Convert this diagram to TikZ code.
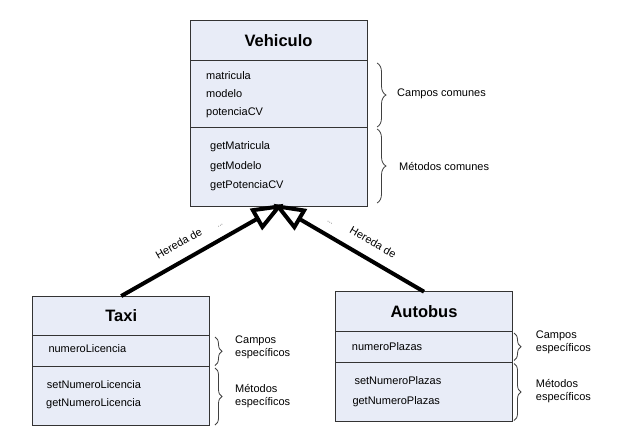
\documentclass[tikz,border=0pt]{standalone}
\usepackage{fontspec}
\setmainfont{Liberation Sans}
\usetikzlibrary{positioning,arrows.meta,decorations.pathreplacing}
\definecolor{boxfill}{RGB}{232,236,247}

\begin{document}
\begin{tikzpicture}[x=1pt, y=-1pt,
        compart/.style={draw=black!80, fill=boxfill, line width=1pt, minimum width=177pt, inner sep=0pt, outer sep=0pt},
        classname/.style={compart, font=\fontsize{16.5}{20}\selectfont\bfseries},
        member/.style={anchor=base west, inner sep=0pt, font=\fontsize{11}{13}\selectfont},
        note/.style={anchor=west, align=left, inner sep=0pt, font=\fontsize{11}{13}\selectfont},
        curly/.style={decorate, decoration={brace, amplitude=#1}, draw=black!75, line width=0.8pt},
        inherit/.style={line width=4pt, shorten >=-6pt, -{Triangle[open, length=32pt 0 0, width=24pt 0 0]}},
        dotmark/.style={sloped, above=10pt, inner sep=0pt, font=\scriptsize, text=black!70}]
            \useasboundingbox (0, 0) rectangle (617, 445);
            % Vehiculo
            \node[classname, minimum height=40pt] (vehT) at (278.5, 40.7) {Vehiculo};
            \node[compart, minimum height=67pt, below=0pt of vehT] (vehF) {};
            \node[compart, minimum height=79pt, below=0pt of vehF] (vehM) {};
            \node[member] (v1) at (206, 79.7) {matricula};
            \node[member] (v2) at (206, 97.3) {modelo};
            \node[member] (v3) at (206, 115) {potenciaCV};
            \node[member] (v4) at (210, 149.7) {getMatricula};
            \node[member] (v5) at (210, 169) {getModelo};
            \node[member] (v6) at (210, 188) {getPotenciaCV};
            \draw[curly=9pt] (377, 63) -- (377, 127);
            \draw[curly=9pt] (377, 129) -- (377, 203);
            \node[note] (vehCampos) at (397, 94) {Campos comunes};
            \node[note] (vehMetodos) at (399, 166) {Métodos comunes};
            % Taxi
            \node[classname, minimum height=39.3pt] (taxiT) at (121.2, 315.7) {Taxi};
            \node[compart, minimum height=31.4pt, below=0pt of taxiT] (taxiF) {};
            \node[compart, minimum height=59pt, below=0pt of taxiF] (taxiM) {};
            \node[member] (t1) at (48.3, 352.3) {numeroLicencia};
            \node[member] (t2) at (46.7, 388.3) {setNumeroLicencia};
            \node[member] (t3) at (46, 406.3) {getNumeroLicencia};
            \draw[curly=7pt] (215, 337) -- (215, 365.5);
            \draw[curly=7pt] (215, 368) -- (215, 425);
            \node[note] (taxiCampos) at (235, 347.4) {Campos\\específicos};
            \node[note] (taxiMetodos) at (235, 396) {Métodos\\específicos};
            % Autobus
            \node[classname, minimum height=40pt] (autoT) at (424, 311.7) {Autobus};
            \node[compart, minimum height=31pt, below=0pt of autoT] (autoF) {};
            \node[compart, minimum height=59pt, below=0pt of autoF] (autoM) {};
            \node[member] (a1) at (351.7, 350.7) {numeroPlazas};
            \node[member] (a2) at (354.3, 384.7) {setNumeroPlazas};
            \node[member] (a3) at (352.3, 404) {getNumeroPlazas};
            \draw[curly=7pt] (514, 333) -- (514, 360.5);
            \draw[curly=7pt] (514, 363.5) -- (514, 420.5);
            \node[note] (autoCampos) at (535.7, 342) {Campos\\específicos};
            \node[note] (autoMetodos) at (535.7, 391.3) {Métodos\\específicos};
            % herencia
            \draw[inherit] (taxiT.north)
                -- node[sloped, above=8pt, pos=0.42, font=\fontsize{11}{13}\selectfont] (herL) {Hereda de}
                   node[dotmark, pos=0.67] (dotsL) {...} (vehM.south);
            \draw[inherit] (autoT.north)
                -- node[sloped, above=8pt, pos=0.41, font=\fontsize{11}{13}\selectfont] (herR) {Hereda de}
                   node[dotmark, pos=0.69] (dotsR) {...} (vehM.south);
        \end{tikzpicture}
\end{document}
